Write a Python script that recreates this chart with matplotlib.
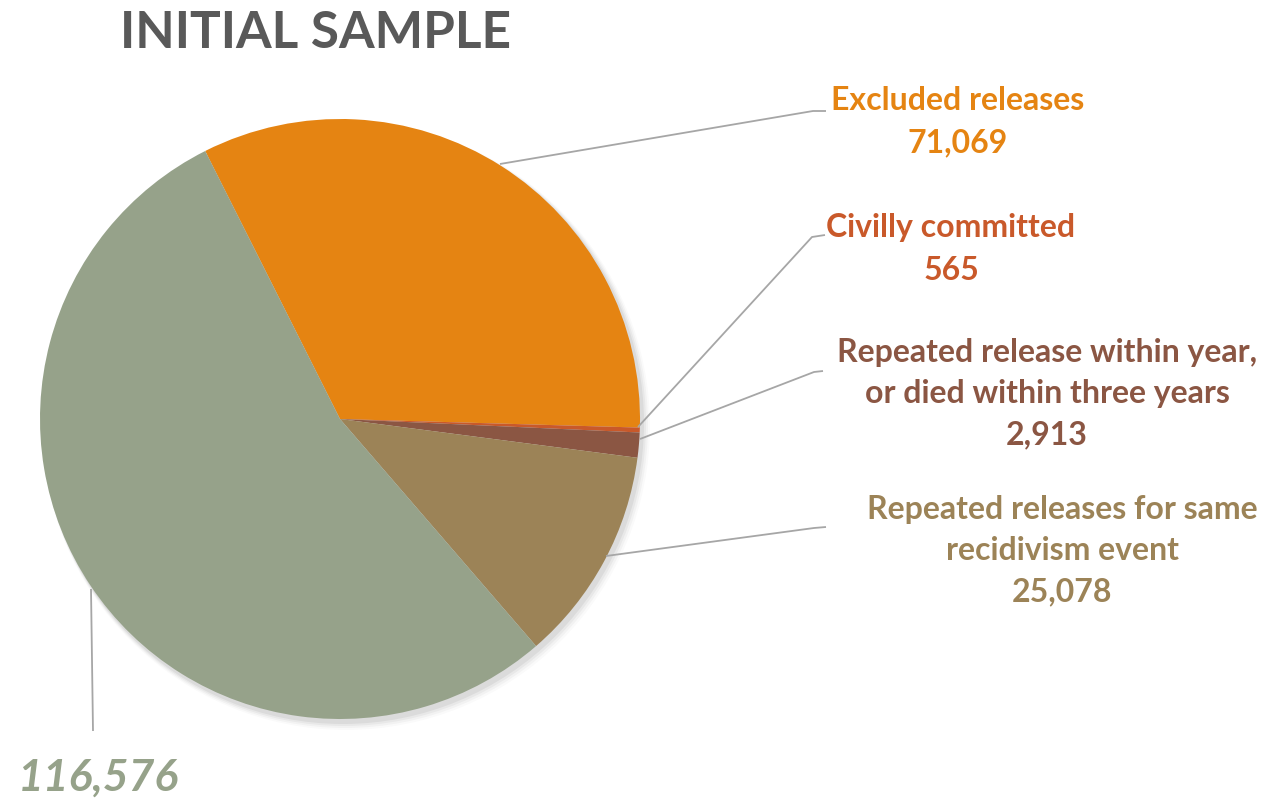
import matplotlib.pyplot as plt

# release counts in the initial sample
categories = [
    "Excluded releases",
    "Civilly committed",
    "Repeated release within year,\nor died within three years",
    "Repeated releases for same\nrecidivism event",
    "Remaining",
]
values = [71069, 565, 2913, 25078, 116576]
colors = ["#E58412", "#C9592A", "#8B5643", "#9C8357", "#96A28A"]

W, H = 1283, 804
fig = plt.figure(figsize=(W / 100, H / 100), dpi=100)
ax = fig.add_axes([0, 0, 1, 1])

cx, cy, r = 340, H - 420, 300

# soft drop shadow under the pie
for i, a in enumerate([0.05, 0.04, 0.03, 0.02]):
    ax.add_patch(plt.Circle((cx + 3 + i, cy - 4 - i), r + 1 + i, color="black",
                            alpha=a, lw=0, zorder=0))

ax.pie(values, colors=colors, startangle=116.7, counterclock=False,
       center=(cx, cy), radius=r, frame=True,
       wedgeprops=dict(linewidth=0, zorder=2))
ax.set_xlim(0, W)
ax.set_ylim(0, H)
ax.set_aspect("equal")
ax.axis("off")

font = ["Lato", "DejaVu Sans"]
line_c = "#A6A6A6"
fs = 23


def leader(pts):
    xs = [p[0] for p in pts]
    ys = [H - p[1] for p in pts]
    ax.plot(xs, ys, color=line_c, lw=1.3, zorder=3, solid_capstyle="butt")


def fmt(v):
    return f"{v:,}"


# leader lines from slices to labels
leader([(500, 165), (813, 112), (826, 112)])
leader([(638, 428), (812, 238), (825, 236)])
leader([(640, 440), (814, 373), (823, 372)])
leader([(606, 557), (814, 529), (826, 528)])
leader([(91, 590), (93, 732)])

ax.text(316, H - 33, "INITIAL SAMPLE", color="#595959", fontsize=37,
        fontweight="bold", family=font, ha="center", va="center")

ax.text(958, H - 101, categories[0], color=colors[0], fontsize=fs,
        fontweight="bold", family=font, ha="center", va="center")
ax.text(958, H - 143, fmt(values[0]), color=colors[0], fontsize=fs,
        fontweight="bold", family=font, ha="center", va="center")

ax.text(951, H - 227, categories[1], color=colors[1], fontsize=fs,
        fontweight="bold", family=font, ha="center", va="center")
ax.text(951, H - 270, fmt(values[1]), color=colors[1], fontsize=fs,
        fontweight="bold", family=font, ha="center", va="center")

ax.text(1047, H - 394, categories[2] + "\n" + fmt(values[2]), color=colors[2],
        fontsize=fs, fontweight="bold", family=font, ha="center", va="center",
        linespacing=1.5)

ax.text(1062, H - 551, categories[3] + "\n" + fmt(values[3]), color=colors[3],
        fontsize=fs, fontweight="bold", family=font, ha="center", va="center",
        linespacing=1.5)

ax.text(98, H - 778, fmt(values[4]), color=colors[4], fontsize=32,
        fontweight="bold", fontstyle="italic", family=font,
        ha="center", va="center")

fig.savefig("out.png", dpi=100)
